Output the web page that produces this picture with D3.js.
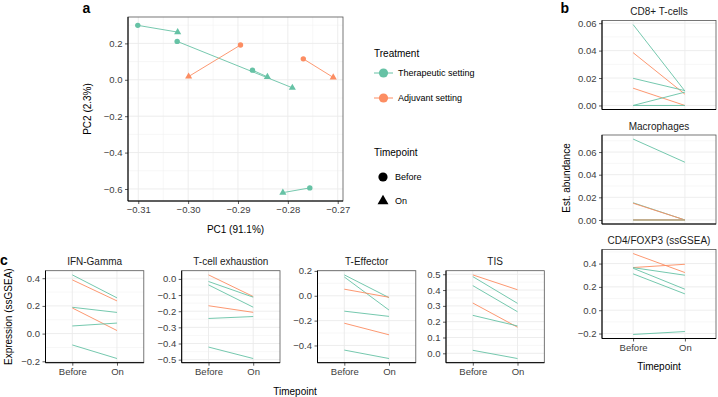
<!DOCTYPE html>
<html>
<head>
<meta charset="utf-8">
<script src="https://cdn.jsdelivr.net/npm/d3@7"></script>
<style>
body { margin: 0; background: #fff; }
svg { display: block; font-family: "Liberation Sans", Arial, sans-serif; }
</style>
</head>
<body>
<svg id="fig" width="718" height="397"></svg>
<script>
// ---- data ----
const treatments = ["Therapeutic setting", "Adjuvant setting"];
const timepoints = ["Before", "On"];
const T = "Therapeutic setting", A = "Adjuvant setting";

// panel a: PCA, one pair of points per patient
const pcaTreatment = [T, T, T, T, A, A];
const pc1Before = [-0.3101, -0.3022, -0.2871, -0.2756, -0.2895, -0.2769];
const pc2Before = [0.299, 0.211, 0.053, -0.594, 0.191, 0.115];
const pc1On = [-0.3021, -0.2791, -0.2841, -0.2810, -0.2999, -0.2709];
const pc2On = [0.262, -0.044, 0.016, -0.620, 0.018, 0.013];
const pc1Ticks = [-0.31, -0.30, -0.29, -0.28, -0.27];
const pc2Ticks = [-0.6, -0.4, -0.2, 0.0, 0.2];

// panel b: estimated abundance
const cd8Trt = [T, A, T, A, T, T];
const cd8Before = [0.059, 0.0385, 0.0198, 0.0126, 0, 0];
const cd8On = [0.0105, 0.0082, 0.0108, 0, 0.0097, 0];
const macroTrt = [T, T, A, T, T, A];
const macroBefore = [0.0715, 0.0152, 0.0148, 0, 0, 0];
const macroOn = [0.051, 0, 0, 0, 0, 0];
const cd4Trt = [A, A, T, T, T, T];
const cd4Before = [0.486, 0.366, 0.365, 0.36, 0.312, -0.208];
const cd4On = [0.323, 0.394, 0.30, 0.18, 0.14, -0.183];
const abundTicks = [0, 0.02, 0.04, 0.06];
const cd4Ticks = [-0.2, 0, 0.2, 0.4];

// panel c: ssGSEA expression
const ifnTrt = [T, A, T, A, T, T];
const ifnBefore = [0.424, 0.388, 0.19, 0.185, 0.055, -0.082];
const ifnOn = [0.258, 0.236, 0.153, 0.022, 0.076, -0.18];
const exhTrt = [A, T, T, A, T, T];
const exhBefore = [0.025, -0.016, -0.037, -0.166, -0.245, -0.422];
const exhOn = [-0.109, -0.113, -0.175, -0.207, -0.233, -0.493];
const teffTrt = [T, T, A, T, A, T];
const teffBefore = [0.168, 0.151, 0.053, -0.124, -0.221, -0.437];
const teffOn = [-0.015, -0.115, -0.012, -0.166, -0.314, -0.505];
const tisTrt = [A, T, T, A, T, T];
const tisBefore = [0.496, 0.485, 0.428, 0.318, 0.24, 0.019];
const tisOn = [0.402, 0.316, 0.263, 0.165, 0.173, -0.033];
const ifnTicks = [-0.2, 0, 0.2, 0.4];
const exhTicks = [-0.5, -0.4, -0.3, -0.2, -0.1, 0];
const teffTicks = [-0.4, -0.2, 0, 0.2];
const tisTicks = [0, 0.1, 0.2, 0.3, 0.4, 0.5];

// ---- setup ----
const svg = d3.select("#fig");
const FONT = "Liberation Sans, Arial, sans-serif";
const color = d3.scaleOrdinal().domain(treatments).range(["#66c2a5", "#fc8d62"]);

// ggplot style 5% expansion
function expand(vals) {
    const [lo, hi] = d3.extent(vals);
    const p = (hi - lo) * 0.05;
    return [lo - p, hi + p];
}

function minorOf(major, dom) {
    const step = major[1] - major[0];
    const out = [];
    for (let i = -1; i < major.length; i++) {
        const m = major[0] + step * (i + 0.5);
        if (m > Math.min(...dom) && m < Math.max(...dom)) out.push(m);
    }
    return out;
}

function styleAxis(ax) {
    ax.attr("font-size", 9.5).attr("font-family", FONT);
    ax.select(".domain").remove();
    ax.selectAll(".tick line").attr("stroke", "#333").attr("stroke-width", 0.8);
    ax.selectAll(".tick text").attr("fill", "#404040");
}

function panel(box, x, y, o) {
    const g = svg.append("g");
    const yMinor = minorOf(o.yTicks, y.domain());
    g.selectAll(".ymin").data(yMinor).enter().append("line")
        .attr("x1", box.x0).attr("x2", box.x1)
        .attr("y1", d => y(d)).attr("y2", d => y(d))
        .attr("stroke", "#f2f2f2").attr("stroke-width", 0.6);
    if (o.xMinor) {
        g.selectAll(".xmin").data(o.xMinor).enter().append("line")
            .attr("y1", box.y0).attr("y2", box.y1)
            .attr("x1", d => x(d)).attr("x2", d => x(d))
            .attr("stroke", "#f2f2f2").attr("stroke-width", 0.6);
    }
    g.selectAll(".ymaj").data(o.yTicks).enter().append("line")
        .attr("x1", box.x0).attr("x2", box.x1)
        .attr("y1", d => y(d)).attr("y2", d => y(d))
        .attr("stroke", "#ebebeb").attr("stroke-width", 0.9);
    g.selectAll(".xmaj").data(o.xTicks).enter().append("line")
        .attr("y1", box.y0).attr("y2", box.y1)
        .attr("x1", d => x(d)).attr("x2", d => x(d))
        .attr("stroke", "#ebebeb").attr("stroke-width", 0.9);

    g.append("rect")
        .attr("x", box.x0).attr("y", box.y0)
        .attr("width", box.x1 - box.x0).attr("height", box.y1 - box.y0)
        .attr("fill", "none").attr("stroke", "#555").attr("stroke-width", 0.8);

    const ay = g.append("g")
        .attr("transform", `translate(${box.x0},0)`)
        .call(d3.axisLeft(y).tickValues(o.yTicks).tickFormat(o.yFmt).tickSize(3).tickPadding(2.5));
    styleAxis(ay);
    if (o.showX) {
        const ax = g.append("g")
            .attr("transform", `translate(0,${box.y1})`)
            .call(d3.axisBottom(x).tickValues(o.xTicks).tickFormat(o.xFmt || (d => d)).tickSize(3).tickPadding(2.5));
        styleAxis(ax);
    }
    // axis lines
    g.append("line").attr("x1", box.x0).attr("x2", box.x0).attr("y1", box.y0).attr("y2", box.y1)
        .attr("stroke", "#000").attr("stroke-width", 1);
    g.append("line").attr("x1", box.x0).attr("x2", box.x1).attr("y1", box.y1).attr("y2", box.y1)
        .attr("stroke", "#000").attr("stroke-width", 1);

    if (o.title) {
        g.append("text")
            .attr("x", (box.x0 + box.x1) / 2).attr("y", box.y0 - 5.5)
            .attr("text-anchor", "middle").attr("font-size", 10).attr("fill", "#1a1a1a")
            .text(o.title);
    }
    return g;
}

function text(x, y, str, size, opts = {}) {
    const t = svg.append("text")
        .attr("x", x).attr("y", y)
        .attr("font-size", size)
        .attr("text-anchor", opts.anchor || "start")
        .attr("font-weight", opts.bold ? "bold" : null)
        .attr("fill", opts.fill || "#000")
        .text(str);
    if (opts.rotate) {
        t.attr("x", 0).attr("y", 0).attr("transform", `translate(${x},${y}) rotate(-90)`);
    }
    return t;
}

// ---- panel a: PCA ----
const boxA = { x0: 128, x1: 343, y0: 17, y1: 201 };
const xA = d3.scaleLinear().domain(expand(pc1Before.concat(pc1On))).range([boxA.x0, boxA.x1]);
const yA = d3.scaleLinear().domain(expand(pc2Before.concat(pc2On))).range([boxA.y1, boxA.y0]);
const gA = panel(boxA, xA, yA, {
    yTicks: pc2Ticks, yFmt: d3.format(".1f"),
    xTicks: pc1Ticks, xFmt: d3.format(".2f"), showX: true,
    xMinor: minorOf(pc1Ticks, xA.domain())
});

const pca = pcaTreatment.map((t, i) => ({
    trt: t, x0: pc1Before[i], y0: pc2Before[i], x1: pc1On[i], y1: pc2On[i]
}));

gA.selectAll(".pair").data(pca).enter().append("line")
    .attr("x1", d => xA(d.x0)).attr("y1", d => yA(d.y0))
    .attr("x2", d => xA(d.x1)).attr("y2", d => yA(d.y1))
    .attr("stroke", d => color(d.trt)).attr("stroke-width", 0.9);

gA.selectAll(".before").data(pca).enter().append("circle")
    .attr("cx", d => xA(d.x0)).attr("cy", d => yA(d.y0))
    .attr("r", 2.7).attr("fill", d => color(d.trt));

const tri = d3.symbol().type(d3.symbolTriangle).size(22);
gA.selectAll(".on").data(pca).enter().append("path")
    .attr("d", tri)
    .attr("transform", d => `translate(${xA(d.x1)},${yA(d.y1)})`)
    .attr("fill", d => color(d.trt));

text(235.5, 232.5, "PC1 (91.1%)", 10, { anchor: "middle" });
text(91, 109, "PC2 (2.3%)", 10, { anchor: "middle", rotate: true });
text(82.5, 12.5, "a", 14, { bold: true });

// legend
const legend = svg.append("g");
legend.append("text").attr("x", 374).attr("y", 56.5).attr("font-size", 10).text("Treatment");
treatments.forEach((t, i) => {
    const cy = 73 + i * 25;
    legend.append("line").attr("x1", 374).attr("x2", 393).attr("y1", cy).attr("y2", cy)
        .attr("stroke", color(t)).attr("stroke-width", 1);
    legend.append("circle").attr("cx", 383.5).attr("cy", cy).attr("r", 4.6).attr("fill", color(t));
    legend.append("text").attr("x", 398).attr("y", cy + 3).attr("font-size", 9).text(t);
});
legend.append("text").attr("x", 374).attr("y", 155.5).attr("font-size", 10).text("Timepoint");
timepoints.forEach((t, i) => {
    const cy = 177 + i * 24;
    if (i === 0) {
        legend.append("circle").attr("cx", 383).attr("cy", cy).attr("r", 4.6).attr("fill", "#000");
    } else {
        legend.append("path").attr("d", d3.symbol().type(d3.symbolTriangle).size(52))
            .attr("transform", `translate(383,${cy})`).attr("fill", "#000");
    }
    legend.append("text").attr("x", 395).attr("y", cy + 3).attr("font-size", 9).text(t);
});

// ---- paired line panels ----
const pairLine = d3.line().x(d => d.x).y(d => d.y);

function pairs(g, x, y, trt, before, on) {
    const rows = trt.map((t, i) => ({ trt: t, b: before[i], o: on[i] }));
    g.selectAll(".pl").data(rows).enter().append("path")
        .attr("d", d => pairLine([{ x: x("Before"), y: y(d.b) }, { x: x("On"), y: y(d.o) }]))
        .attr("fill", "none")
        .attr("stroke", d => color(d.trt))
        .attr("stroke-width", 1)
        .attr("stroke-opacity", 0.9);
}

// panel b
const bTops = [20.5, 135, 249.5];
const bH = 89;
const bX0 = 602, bX1 = 716;
const xB = d3.scalePoint().domain(timepoints).range([bX0, bX1]).padding(0.6);
const bPanels = [
    { title: "CD8+ T-cells", trt: cd8Trt, b: cd8Before, o: cd8On, ticks: abundTicks, fmt: d3.format(".2f") },
    { title: "Macrophages", trt: macroTrt, b: macroBefore, o: macroOn, ticks: abundTicks, fmt: d3.format(".2f") },
    { title: "CD4/FOXP3 (ssGSEA)", trt: cd4Trt, b: cd4Before, o: cd4On, ticks: cd4Ticks, fmt: d3.format(".1f") }
];
bPanels.forEach((p, i) => {
    const box = { x0: bX0, x1: bX1, y0: bTops[i], y1: bTops[i] + bH };
    const y = d3.scaleLinear().domain(expand(p.b.concat(p.o))).range([box.y1, box.y0]);
    const g = panel(box, xB, y, {
        yTicks: p.ticks, yFmt: p.fmt, xTicks: timepoints,
        showX: i === bPanels.length - 1, title: p.title
    });
    pairs(g, xB, y, p.trt, p.b, p.o);
});
text(659, 370, "Timepoint", 10, { anchor: "middle" });
text(570, 178, "Est. abundance", 10, { anchor: "middle", rotate: true });
text(560.5, 12.5, "b", 14, { bold: true });

// panel c
const cLefts = [45.5, 181.7, 317.5, 446];
const cW = 98.3;
const cY0 = 270.7, cY1 = 362.7;
const cPanels = [
    { title: "IFN-Gamma", trt: ifnTrt, b: ifnBefore, o: ifnOn, ticks: ifnTicks },
    { title: "T-cell exhaustion", trt: exhTrt, b: exhBefore, o: exhOn, ticks: exhTicks },
    { title: "T-Effector", trt: teffTrt, b: teffBefore, o: teffOn, ticks: teffTicks },
    { title: "TIS", trt: tisTrt, b: tisBefore, o: tisOn, ticks: tisTicks }
];
cPanels.forEach((p, i) => {
    const box = { x0: cLefts[i], x1: cLefts[i] + cW, y0: cY0, y1: cY1 };
    const x = d3.scalePoint().domain(timepoints).range([box.x0, box.x1]).padding(0.6);
    const y = d3.scaleLinear().domain(expand(p.b.concat(p.o))).range([box.y1, box.y0]);
    const g = panel(box, x, y, {
        yTicks: p.ticks, yFmt: d3.format(".1f"), xTicks: timepoints,
        showX: true, title: p.title
    });
    pairs(g, x, y, p.trt, p.b, p.o);
});
text(295, 394.5, "Timepoint", 10, { anchor: "middle" });
text(11.5, 316.7, "Expression (ssGSEA)", 10, { anchor: "middle", rotate: true });
text(0, 265, "c", 14, { bold: true });
</script>
</body>
</html>
